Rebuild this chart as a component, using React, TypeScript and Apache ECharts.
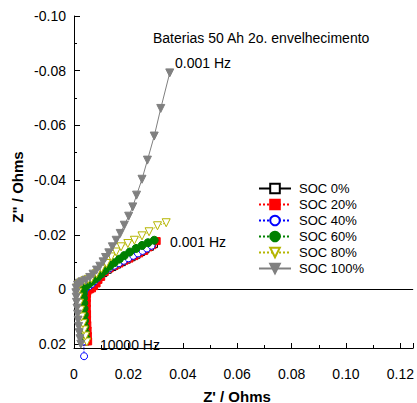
import React, { useEffect, useRef } from "react";
import * as echarts from "echarts";

// Nyquist data: [Z' (Ohms), Z'' (Ohms)], from 10000 Hz (bottom) to 0.001 Hz
const SOC0: number[][] = [
  [0.0043, 0.019], [0.0043, 0.0168], [0.0042, 0.0146], [0.0042, 0.0124], [0.0041, 0.0102],
  [0.0041, 0.008], [0.0041, 0.006], [0.0041, 0.004], [0.0041, 0.0022], [0.0042, 0.0008],
  [0.0046, -0.0002], [0.0054, -0.0008], [0.0063, -0.0015], [0.0072, -0.0024], [0.0082, -0.0034],
  [0.0094, -0.0046], [0.0108, -0.006], [0.0124, -0.0072], [0.0141, -0.0082], [0.0158, -0.0091],
  [0.0176, -0.01], [0.0194, -0.0109], [0.0212, -0.0118], [0.023, -0.0127], [0.0247, -0.0137],
  [0.0263, -0.0147], [0.0279, -0.0156], [0.0294, -0.0166],
];
const SOC20: number[][] = [
  [0.0052, 0.019], [0.0051, 0.017], [0.005, 0.015], [0.0049, 0.013], [0.0048, 0.011],
  [0.0048, 0.009], [0.0047, 0.007], [0.0047, 0.005], [0.0047, 0.0032], [0.0048, 0.0016],
  [0.005, 0.0005], [0.0058, 0.0], [0.0066, -0.0004], [0.0074, -0.0012], [0.0083, -0.0022],
  [0.009, -0.0035], [0.01, -0.0046], [0.0113, -0.0064], [0.0131, -0.0077], [0.0149, -0.0086],
  [0.0167, -0.0095], [0.0185, -0.0105], [0.0204, -0.0113], [0.0222, -0.0122], [0.024, -0.0132],
  [0.0258, -0.0141], [0.0274, -0.0154], [0.0288, -0.0162], [0.0304, -0.0177],
];
const SOC40: number[][] = [
  [0.0037, 0.0244], [0.0036, 0.019], [0.0036, 0.0165], [0.0035, 0.014], [0.0035, 0.0115],
  [0.0035, 0.009], [0.0035, 0.0068], [0.0035, 0.0048], [0.0035, 0.003], [0.0036, 0.0015],
  [0.0038, 0.0004], [0.0045, -0.0005], [0.0055, -0.0012], [0.0065, -0.002], [0.0075, -0.003],
  [0.0087, -0.0042], [0.01, -0.0055], [0.0115, -0.0068], [0.0131, -0.0078], [0.0148, -0.0087],
  [0.0165, -0.0096], [0.0183, -0.0105], [0.02, -0.0114], [0.0218, -0.0123], [0.0235, -0.0132],
  [0.0252, -0.0141], [0.0268, -0.015], [0.0285, -0.016],
];
const SOC60: number[][] = [
  [0.0044, 0.0178], [0.0042, 0.0158], [0.004, 0.0136], [0.0039, 0.0114], [0.0038, 0.0092],
  [0.0037, 0.007], [0.0036, 0.005], [0.0035, 0.0032], [0.0034, 0.0016], [0.0034, 0.0004],
  [0.0038, -0.0006], [0.0046, -0.0014], [0.0056, -0.0022], [0.0066, -0.003], [0.0077, -0.0038],
  [0.0088, -0.0046], [0.01, -0.0057], [0.0114, -0.007], [0.0131, -0.0085], [0.0148, -0.0098],
  [0.0167, -0.0111], [0.0185, -0.0124], [0.0205, -0.0137], [0.0228, -0.015], [0.025, -0.0161],
  [0.0272, -0.0171], [0.0295, -0.018],
];
const SOC80: number[][] = [
  [0.0047, 0.0192], [0.0042, 0.017], [0.0037, 0.0148], [0.0033, 0.0125], [0.0028, 0.01],
  [0.0024, 0.0075], [0.002, 0.005], [0.0017, 0.0028], [0.0014, 0.001], [0.0013, -0.0006],
  [0.0018, -0.0018], [0.0028, -0.0026], [0.004, -0.0032], [0.0052, -0.0037], [0.0064, -0.004],
  [0.0083, -0.0058], [0.0101, -0.0077], [0.0119, -0.0095], [0.0137, -0.0119], [0.0155, -0.0137],
  [0.0173, -0.0156], [0.0198, -0.0168], [0.0222, -0.018], [0.025, -0.0196], [0.0276, -0.0211],
  [0.0307, -0.0233], [0.0339, -0.0244],
];
const SOC100: number[][] = [
  [0.0025, 0.02], [0.0022, 0.018], [0.0019, 0.0158], [0.0017, 0.0135], [0.0015, 0.0112],
  [0.0013, 0.009], [0.0011, 0.0068], [0.0009, 0.0047], [0.0008, 0.0028], [0.0007, 0.0012],
  [0.0008, -0.0005], [0.0013, -0.0016], [0.002, -0.0023], [0.003, -0.0028], [0.0044, -0.0034],
  [0.0058, -0.0044], [0.007, -0.0056], [0.0083, -0.0071], [0.0095, -0.0085], [0.0107, -0.0101],
  [0.0116, -0.0117], [0.0128, -0.0134], [0.0141, -0.0156], [0.0155, -0.018], [0.017, -0.0205],
  [0.0185, -0.0235], [0.0201, -0.0268], [0.0216, -0.0302], [0.023, -0.0345], [0.025, -0.0403],
  [0.027, -0.0473], [0.0295, -0.0561], [0.0319, -0.0662], [0.0352, -0.0792],
];

const SERIES_NAMES = ["SOC 0%", "SOC 20%", "SOC 40%", "SOC 60%", "SOC 80%", "SOC 100%"];
const X_TICKS = [0, 0.02, 0.04, 0.06, 0.08, 0.1, 0.12];
const Y_TICKS = [-0.1, -0.08, -0.06, -0.04, -0.02, 0, 0.02];

const FONT = "'Liberation Sans', Arial, sans-serif";

export default function App() {
  const ref = useRef<HTMLDivElement>(null);
  useEffect(() => {
    if (!ref.current) return;
    const chart = echarts.init(ref.current, undefined, { renderer: "svg" });
    const fmt = (v: number) => {
      const r = Math.round(v * 100) / 100;
      return r === 0 ? "0" : r.toFixed(2);
    };
    const mk = (
      name: string,
      data: number[][],
      color: string,
      symbol: string,
      hollow: boolean,
      lineType: string,
      rotate = 0,
      size = 7
    ): any => ({
      name,
      type: "line",
      data,
      clip: false,
      symbol,
      symbolSize: size,
      symbolRotate: rotate,
      showAllSymbol: true,
      lineStyle: { color, width: 1, type: lineType },
      itemStyle: {
        color: hollow ? "#ffffff" : color,
        borderColor: color,
        borderWidth: 1,
      },
      emphasis: { disabled: true },
      z: 3,
    });
    const series: any[] = [
      mk(SERIES_NAMES[0], SOC0, "#000000", "rect", true, "solid"),
      mk(SERIES_NAMES[1], SOC20, "#ff0000", "rect", false, "dotted"),
      mk(SERIES_NAMES[2], SOC40, "#0000ff", "circle", true, "dotted"),
      mk(SERIES_NAMES[3], SOC60, "#008000", "circle", false, "dotted", 0, 8),
      mk(SERIES_NAMES[4], SOC80, "#b5b500", "triangle", true, "dotted", 180, 8),
      mk(SERIES_NAMES[5], SOC100, "#808080", "triangle", false, "solid", 180, 8),
    ];
    series[0].markLine = {
      silent: true,
      symbol: ["none", "none"],
      label: { show: false },
      lineStyle: { color: "#000", width: 1, type: "solid" },
      data: [{ yAxis: 0 }],
      z: 1,
    };
    chart.setOption({
      animation: false,
      backgroundColor: "#ffffff",
      grid: { left: 74, right: 0, top: 16, bottom: 55, containLabel: false },
      legend: {
        data: SERIES_NAMES,
        orient: "vertical",
        left: 253,
        top: 177,
        itemWidth: 32,
        itemHeight: 12,
        itemGap: 3,
        textStyle: { fontFamily: FONT, fontSize: 13, color: "#000", padding: [0, 0, 0, 3] },
      },
      xAxis: {
        type: "value",
        min: 0,
        max: 0.1247,
        interval: 0.02,
        axisLine: { onZero: false, lineStyle: { color: "#000", width: 1 } },
        axisTick: { inside: true, length: 5, lineStyle: { color: "#000" } },
        minorTick: { show: true, splitNumber: 2, length: 3, lineStyle: { color: "#000" } },
        splitLine: { show: false },
        axisLabel: {
          margin: 19,
          fontFamily: FONT,
          fontSize: 14,
          color: "#000",
          showMaxLabel: false,
          formatter: (v: number) => (X_TICKS.some((t) => Math.abs(t - v) < 1e-9) ? fmt(v) : ""),
        },
      },
      yAxis: {
        type: "value",
        inverse: true,
        min: -0.1,
        max: 0.0214,
        interval: 0.02,
        axisLine: { onZero: false, lineStyle: { color: "#000", width: 1 } },
        axisTick: { inside: true, length: 6, lineStyle: { color: "#000" } },
        minorTick: { show: true, splitNumber: 2, length: 3, lineStyle: { color: "#000" } },
        splitLine: { show: false },
        axisLabel: {
          margin: 8,
          fontFamily: FONT,
          fontSize: 14,
          color: "#000",
          showMaxLabel: false,
          formatter: (v: number) => (Y_TICKS.some((t) => Math.abs(t - v) < 1e-9) ? fmt(v) : ""),
        },
      },
      graphic: [
        {
          type: "text",
          x: 153,
          y: 38,
          style: { text: "Baterias 50 Ah 2o. envelhecimento", font: `14px ${FONT}`, fill: "#000", verticalAlign: "middle" },
        },
        {
          type: "text",
          x: 175,
          y: 63,
          style: { text: "0.001 Hz", font: `14px ${FONT}`, fill: "#000", verticalAlign: "middle" },
        },
        {
          type: "text",
          x: 170,
          y: 242,
          style: { text: "0.001 Hz", font: `14px ${FONT}`, fill: "#000", verticalAlign: "middle" },
        },
        {
          type: "text",
          x: 100,
          y: 345,
          style: { text: "10000 Hz", font: `14px ${FONT}`, fill: "#000", verticalAlign: "middle" },
        },
        {
          type: "text",
          x: 237,
          y: 396,
          style: { text: "Z' / Ohms", font: `bold 15px ${FONT}`, fill: "#000", align: "center", verticalAlign: "middle" },
        },
        {
          type: "text",
          x: 17,
          y: 187,
          rotation: Math.PI / 2,
          style: { text: 'Z" / Ohms', font: `bold 15px ${FONT}`, fill: "#000", align: "center", verticalAlign: "middle" },
        },
      ],
      series,
    });
    return () => chart.dispose();
  }, []);
  return (
    <div
      ref={ref}
      style={{ position: "absolute", left: 0, top: 0, width: 417, height: 403, background: "#fff" }}
    />
  );
}
